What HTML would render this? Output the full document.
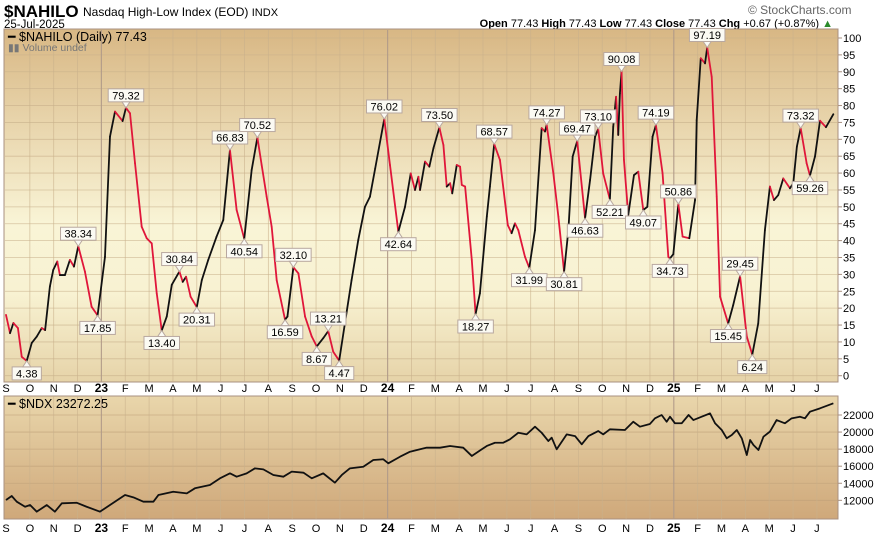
<!DOCTYPE html>
<html><head><meta charset="utf-8"><style>
body{margin:0;background:#fff;width:877px;height:536px;overflow:hidden;font-family:"Liberation Sans",sans-serif}
svg text{font-family:"Liberation Sans",sans-serif}
</style></head><body>
<svg id="c" width="877" height="536" xmlns="http://www.w3.org/2000/svg">
<defs>
<linearGradient id="g1" x1="0" y1="0" x2="0" y2="1"><stop offset="0" stop-color="#d8b784"/><stop offset="0.55" stop-color="#f9f4d6"/><stop offset="0.75" stop-color="#f8f2d2"/><stop offset="1" stop-color="#e6d3a8"/></linearGradient>
<linearGradient id="g2" x1="0" y1="0" x2="0" y2="1"><stop offset="0" stop-color="#e9d6ab"/><stop offset="1" stop-color="#cfa87a"/></linearGradient>
</defs>
<text x="4" y="17" font-size="17" font-weight="bold">$NAHILO</text>
<text x="83" y="16" font-size="12">Nasdaq High-Low Index (EOD) <tspan font-size="11">INDX</tspan></text>
<text x="4" y="28" font-size="11.5">25-Jul-2025</text>
<text x="748" y="14" font-size="12" fill="#666">© StockCharts.com</text>
<text x="833" y="27" font-size="11" text-anchor="end"><tspan font-weight="bold">Open</tspan> 77.43  <tspan font-weight="bold">High</tspan> 77.43  <tspan font-weight="bold">Low</tspan> 77.43  <tspan font-weight="bold">Close</tspan> 77.43  <tspan font-weight="bold">Chg</tspan> +0.67 (+0.87%) <tspan fill="#2a8a2a">▲</tspan></text>
<rect x="4" y="29" width="834" height="353" fill="url(#g1)" stroke="#a89080"/>
<rect x="4" y="396" width="834" height="123" fill="url(#g2)" stroke="#a89080"/>
<g id="grid"></g>
<g id="series"></g>
<g id="labels"></g>
<text x="8" y="41" font-size="12.5" font-family="Liberation Mono">━ $NAHILO (Daily) 77.43</text>
<text x="8" y="51" font-size="10.5" fill="#777">▮▮ Volume undef</text>
<text x="8" y="408" font-size="12.5" font-family="Liberation Mono">━ $NDX 23272.25</text>
</svg>
<script>
const hlT=[0,0.17,0.31,0.50,0.66,0.87,1.08,1.29,1.50,1.64,1.84,1.98,2.15,2.26,2.47,2.68,2.85,3.03,3.31,3.59,3.84,4.15,4.36,4.57,4.89,5.03,5.20,5.41,5.69,5.90,6.11,6.32,6.53,6.74,6.95,7.27,7.41,7.55,7.74,8.00,8.21,8.48,8.83,9.11,9.39,9.67,9.99,10.30,10.54,10.72,10.93,11.14,11.35,11.70,11.80,12.05,12.26,12.54,12.82,13.03,13.30,13.51,13.72,13.97,14.21,14.49,14.77,15.05,15.26,15.48,15.86,16.10,16.45,16.73,16.97,17.15,17.29,17.36,17.57,17.75,17.92,18.17,18.34,18.48,18.62,18.71,18.90,19.04,19.11,19.25,19.53,19.69,19.87,20.16,20.29,20.47,20.71,21.04,21.20,21.34,21.48,21.76,21.94,22.18,22.46,22.60,22.67,22.95,23.16,23.40,23.58,23.76,23.95,24.28,24.49,24.70,24.83,25.04,25.32,25.46,25.58,25.67,25.74,25.81,25.91,26.09,26.33,26.51,26.72,26.89,27.11,27.25,27.53,27.77,27.84,27.98,28.19,28.37,28.65,28.89,28.96,29.13,29.31,29.40,29.59,29.80,29.94,30.28,30.49,30.78,31.06,31.29,31.54,31.82,32.03,32.20,32.38,32.59,32.87,33.01,33.16,33.32,33.57,33.71,33.92,34.13,34.38,34.69];
const hlV=[18.0,12.6,15.6,14.1,5.6,4.38,9.7,11.6,14.1,13.5,26.4,31.3,33.8,29.8,29.8,34.3,32.3,38.34,30.8,20.4,17.85,35.2,70.8,78.2,75.4,79.32,77.7,62.9,44.1,40.7,39.2,24.4,13.40,17.5,26.9,30.84,27.8,29.3,23.4,20.31,28.3,34.3,41.2,46.1,66.83,49.1,40.54,60.9,70.52,62.4,53,44.1,28.3,16.59,17.5,32.10,30.3,17.5,11.6,8.67,11.1,13.21,7.1,4.47,15.5,28.3,40.2,50,53,61.4,76.02,62.4,42.64,50,59.9,55,58.9,55,63.4,61.9,67.3,73.50,68.3,56,57,54,62.4,61.9,56.5,56,34.3,18.27,24.4,47.1,56,68.57,63.9,44.6,42.2,45.1,43.1,35.2,31.99,43.1,73.3,72.3,74.27,59.9,47.1,30.81,43.1,64.9,69.47,46.63,58,70.8,73.10,59.9,52.21,73.7,82.6,71.3,83.6,90.08,63.9,47.6,59.4,60.4,49.07,50,70.8,74.19,59.9,35.2,34.73,36,50.86,41.2,40.7,52,75.7,94,92.5,97.19,88.5,53,23.4,15.45,20.9,29.45,11.6,6.24,15.5,43.1,56,52,53.5,58.4,55.5,57,67.8,73.32,62.9,59.26,64.9,75.5,73.6,77.43];
const labelVals=[4.38,38.34,17.85,79.32,13.40,30.84,20.31,66.83,40.54,70.52,16.59,32.10,8.67,13.21,4.47,76.02,42.64,73.50,18.27,68.57,31.99,74.27,30.81,69.47,46.63,73.10,52.21,90.08,49.07,74.19,34.73,50.86,97.19,15.45,29.45,6.24,73.32,59.26];
const ndxT=[0,0.24,0.45,0.80,1.01,1.29,1.71,2.05,2.34,2.96,3.38,3.94,4.36,4.99,5.34,5.76,6.18,6.39,7.01,7.58,7.92,8.55,8.97,9.39,9.67,10.09,10.44,10.79,11.21,11.63,11.98,12.47,12.82,13.30,13.79,14.08,14.42,14.98,15.40,15.82,16.03,16.52,16.94,17.36,17.64,18.20,18.62,19.17,19.53,19.95,20.16,20.50,20.85,21.13,21.48,21.83,22.18,22.46,22.74,22.88,23.09,23.51,23.86,24.14,24.42,24.83,25.04,25.32,25.95,26.30,26.58,27.00,27.21,27.49,27.70,27.84,28.05,28.33,28.62,28.82,29.17,29.52,29.73,30.01,30.22,30.43,30.64,30.85,31.06,31.20,31.34,31.55,31.76,32.03,32.31,32.66,32.94,33.29,33.50,33.71,34.13,34.69];
const ndxV=[12040,12510,11840,11250,11450,10670,11450,10670,11650,11720,11250,10670,11450,12620,12350,11840,11840,12620,13010,12820,13410,13800,14580,15160,14770,15160,15750,15630,14970,14770,15360,15240,14580,15160,14070,14970,15750,15940,16730,16810,16340,17110,17700,17980,18170,18170,18370,18170,17200,17980,18370,18750,18750,19150,19920,19730,20630,19920,18950,19340,17980,19730,19530,18560,19530,20120,19730,20320,20240,21210,20630,20950,21610,22000,21210,21800,21030,21030,22000,21410,21800,22190,21030,20240,19270,19650,20240,19270,17310,19070,18480,17900,19460,20050,21410,21030,21610,21800,21610,22390,22780,23370];
const monthLabels=["S","O","N","D","23","F","M","A","M","J","J","A","S","O","N","D","24","F","M","A","M","J","J","A","S","O","N","D","25","F","M","A","M","J","J"];
const mainTicks=[0,5,10,15,20,25,30,35,40,45,50,55,60,65,70,75,80,85,90,95,100];
const ndxTicks=[12000,14000,16000,18000,20000,22000];

const NS="http://www.w3.org/2000/svg";
const X=t=>6+t*23.85;
const Y1=v=>375.7-v*3.377;
const Y2=v=>415+(22000-v)*0.008533;
function mk(tag,attrs,parent){const e=document.createElementNS(NS,tag);for(const k in attrs)e.setAttribute(k,attrs[k]);parent.appendChild(e);return e;}
const grid=document.getElementById('grid'),ser=document.getElementById('series'),lab=document.getElementById('labels');
mainTicks.forEach(v=>{
  const l=mk('line',{x1:5,x2:838,y1:Y1(v),y2:Y1(v),stroke:'#c9b08c','stroke-width':0.8,'stroke-opacity':0.7},grid);
  
  
  mk('line',{x1:838,x2:842,y1:Y1(v),y2:Y1(v),stroke:'#a89080'},grid);
  const t=mk('text',{x:843,y:Y1(v)+4,'font-size':11},grid);t.textContent=v;
  
  
});
ndxTicks.forEach(v=>{
  const l=mk('line',{x1:5,x2:838,y1:Y2(v),y2:Y2(v),stroke:'#bf9f78','stroke-width':0.8,'stroke-opacity':0.7},grid);
  
  
  mk('line',{x1:838,x2:842,y1:Y2(v),y2:Y2(v),stroke:'#a89080'},grid);
  const t=mk('text',{x:843,y:Y2(v)+4,'font-size':11},grid);t.textContent=v;
  
  
});
monthLabels.forEach((m,i)=>{
  const x=X(i),yr=/\d/.test(m);
  if(i>0){[[30,382],[396,519]].forEach(([a,b])=>{
    const l=mk('line',{x1:x,x2:x,y1:a,y2:b,stroke:yr?'#b09a88':'#c9b08c','stroke-width':yr?1.2:0.8,'stroke-opacity':yr?0.9:0.7},grid);
    
    
  });}
  [392,532].forEach(y=>{
    const t=mk('text',{x:x,y:y,'font-size':yr?12:11,'font-weight':yr?'bold':'normal','text-anchor':'middle'},grid);
    t.textContent=m;
    
    
  });
});
for(let i=0;i<hlT.length-1;i++){
  const s=mk('line',{x1:X(hlT[i]),y1:Y1(hlV[i]),x2:X(hlT[i+1]),y2:Y1(hlV[i+1]),stroke:hlV[i+1]>=hlV[i]?'#111':'#e0163a','stroke-width':1.8,'stroke-linecap':'round'},ser);
  
  
}
const nd=mk('polyline',{points:ndxT.map((t,i)=>X(t)+','+Y2(ndxV[i])).join(' '),fill:'none',stroke:'#111','stroke-width':1.8,'stroke-linejoin':'round'},ser);


labelVals.forEach(val=>{
  const i=hlV.indexOf(val);if(i<0)return;
  const prev=hlV[Math.max(0,i-1)],next=hlV[Math.min(hlV.length-1,i+1)];
  const peak=val>=prev&&val>=next;
  const x=X(hlT[i]),y=Y1(val),txt=val.toFixed(2),w=txt.length*6.3+4;
  const g=mk('g',{},lab);
  
  
  const by=peak?y-19:y+6;
  mk('rect',{x:x-w/2,y:by,width:w,height:13,fill:'#fbfaf3',stroke:'#b8a8a0'},g);
  mk('path',{d:peak?`M${x-4} ${by+13}L${x} ${y}L${x+4} ${by+13}Z`:`M${x-4} ${by}L${x} ${y}L${x+4} ${by}Z`,fill:'#fbfaf3',stroke:'#b8a8a0'},g);
  const t=mk('text',{x:x,y:by+10.5,'font-size':11,'text-anchor':'middle'},g);t.textContent=txt;
});
</script>
</body></html>
